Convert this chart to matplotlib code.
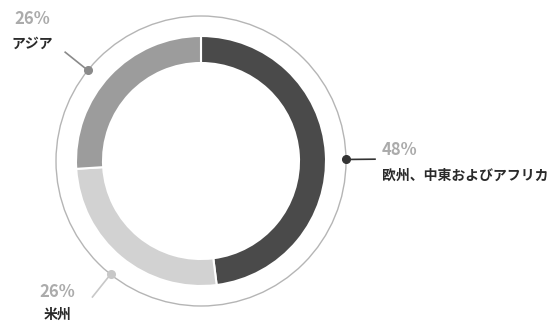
import numpy as np
import matplotlib
matplotlib.use("Agg")
import matplotlib.pyplot as plt

plt.rcParams['font.family'] = ['Noto Sans CJK JP', 'DejaVu Sans']

# data (clockwise from 12 o'clock)
regions = ["欧州、中東およびアフリカ", "米州", "アジア"]
shares = [48, 26, 26]
pct_labels = ["48%", "26%", "26%"]
colors = ["#4a4a4a", "#d2d2d2", "#9c9c9c"]
dot_colors = ["#333333", "#c8c8c8", "#8a8a8a"]

W, H = 554, 323
cx, cy = 201, 162
r_ring = 125
r_outer = 145

fig = plt.figure(figsize=(W / 100, H / 100), dpi=100)
ax = fig.add_axes([0, 0, 1, 1])

ax.pie(shares, colors=colors, startangle=90, counterclock=False,
       radius=r_ring, center=(cx, cy),
       wedgeprops=dict(width=27, edgecolor="white", linewidth=1.5))

ax.add_patch(plt.Circle((cx, cy), r_outer, fill=False, edgecolor="#b5b5b5", lw=1))

# dots + leader lines near the middle of each segment (small nudges, degrees)
nudge = [3.0, -1.0, -4.5]
cum = np.cumsum([0] + shares[:-1])
for i, v in enumerate(shares):
    ang = np.deg2rad(90 - 360 * (cum[i] + v / 2) / sum(shares) - nudge[i])
    x0, y0 = cx + r_outer * np.cos(ang), cy + r_outer * np.sin(ang)
    x1, y1 = cx + (r_outer + 29) * np.cos(ang), cy + (r_outer + 29) * np.sin(ang)
    ax.plot([x0, x1], [y0, y1], color=dot_colors[i], lw=1.2, zorder=3)
    ax.plot(x0, y0, "o", ms=5.5, color=dot_colors[i], zorder=4)

# labels: (x, y_pct, y_name, ha)
label_pos = [(382, H - 150, H - 176, "left"),
             (57, H - 292, H - 315, "center"),
             (32, H - 19, H - 44, "center")]
for i, (x, yp, yn, ha) in enumerate(label_pos):
    ax.text(x, yp, pct_labels[i], fontsize=12, fontweight="bold",
            color="#ababab", ha=ha, va="center")
    ax.text(x, yn, regions[i], fontsize=10, fontweight="bold",
            color="#2a2a2a", ha=ha, va="center")

ax.set_xlim(0, W)
ax.set_ylim(0, H)
ax.set_aspect("equal")
ax.axis("off")

fig.savefig("out.png", dpi=100, facecolor="white")
